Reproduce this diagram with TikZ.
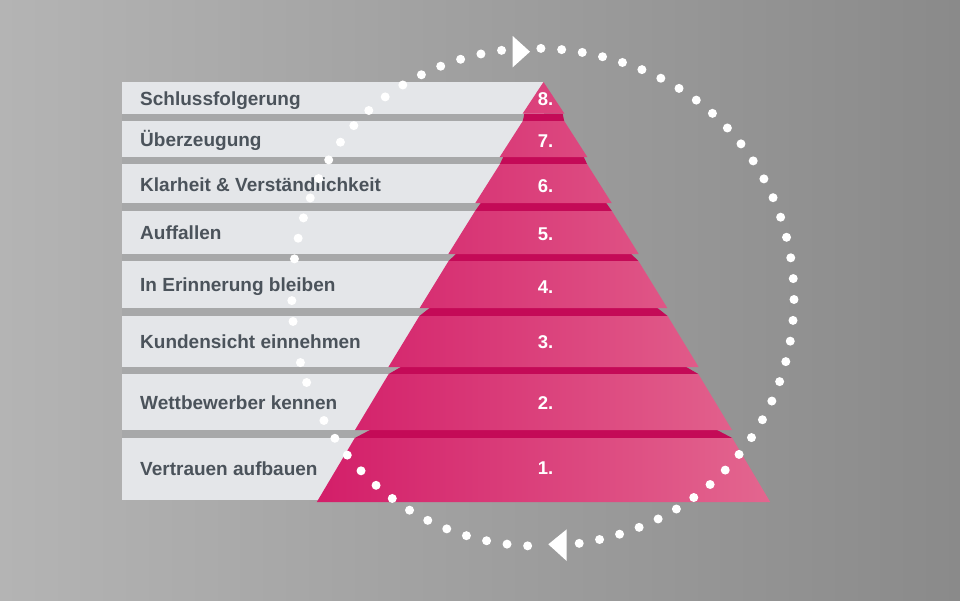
\documentclass[tikz,border=0pt]{standalone}
\usepackage{fontspec}
\setmainfont{Liberation Sans}
\definecolor{bgL}{HTML}{B4B4B4}
\definecolor{bgR}{HTML}{8A8A8A}
\definecolor{barfill}{HTML}{E4E6E9}
\definecolor{stripecol}{HTML}{A7A8A9}
\definecolor{pyrL}{HTML}{D31E69}
\definecolor{pyrR}{HTML}{E3668F}
\definecolor{bandcol}{HTML}{C40A57}
\definecolor{txtcol}{HTML}{4B535B}
\tikzset{
  lbl/.style={anchor=base west,inner sep=0pt,text=txtcol,font=\fontsize{19}{22}\selectfont\bfseries},
  num/.style={anchor=base,inner sep=0pt,text=white,font=\fontsize{18.5}{22}\selectfont\bfseries},
  dotfill/.style={fill=white,draw=none},
  arrowfill/.style={fill=white,draw=none}
}
\begin{document}
\begin{tikzpicture}[x=1pt,y=-1pt]
\useasboundingbox (0,0) rectangle (960,600);
\shade[left color=bgL,right color=bgR] (0,0) rectangle (960,600);
% shadow stripes between bars
\foreach \a/\b in {114/121,157/164,203/211,254/261,308/316,367/374,430/438}
  \fill[stripecol] (122,\a) rectangle (543.5,\b);
% label bars
\foreach \a/\b in {82/114,121/157,164/203,211/254,261/308,316/367,374/430,438/500}
  \fill[barfill] (122,\a) rectangle (543.5,\b);
% dark bands of the slabs
\fill[bandcol] (524.4,113.5) -- (562.6,113.5) -- (564.2,121) -- (522.8,121) -- cycle;
\fill[bandcol] (503.2,157) -- (583.8,157) -- (587.0,164) -- (500.0,164) -- cycle;
\fill[bandcol] (480.8,203) -- (606.2,203) -- (611.9,211) -- (475.1,211) -- cycle;
\fill[bandcol] (455.9,254) -- (631.1,254) -- (638.4,261) -- (448.6,261) -- cycle;
\fill[bandcol] (429.6,308) -- (657.4,308) -- (667.6,316) -- (419.4,316) -- cycle;
\fill[bandcol] (400.8,367) -- (686.2,367) -- (698.3,374) -- (388.7,374) -- cycle;
\fill[bandcol] (370.0,430) -- (717.0,430) -- (732.2,438) -- (354.8,438) -- cycle;
% front faces of the pyramid layers
\shade[left color=pyrL,right color=pyrR]
  (543.5,82) -- (564.3,113.5) -- (522.7,113.5) -- cycle
  (522.8,121) -- (564.2,121) -- (587.3,157) -- (499.7,157) -- cycle
  (500.0,164) -- (587.0,164) -- (611.7,203) -- (475.3,203) -- cycle
  (475.1,211) -- (611.9,211) -- (638.7,254) -- (448.3,254) -- cycle
  (448.6,261) -- (638.4,261) -- (667.3,308) -- (419.7,308) -- cycle
  (419.4,316) -- (667.6,316) -- (698.6,367) -- (388.4,367) -- cycle
  (388.7,374) -- (698.3,374) -- (732.0,430) -- (355.0,430) -- cycle
  (354.8,438) -- (732.2,438) -- (770.2,502) -- (316.8,502) -- cycle;
% labels
\node[lbl] (t8) at (140,105.7) {Schlussfolgerung};
\node[lbl] (t7) at (140,146.6) {Überzeugung};
\node[lbl] (t6) at (140,191.0) {Klarheit \& Verständlichkeit};
\node[lbl] (t5) at (140,239.7) {Auffallen};
\node[lbl] (t4) at (140,291.7) {In Erinnerung bleiben};
\node[lbl] (t3) at (140,348.7) {Kundensicht einnehmen};
\node[lbl] (t2) at (140,409.2) {Wettbewerber kennen};
\node[lbl] (t1) at (140,475.5) {Vertrauen aufbauen};
% numbers
\node[num] (n8) at (545.5,105.8) {8.};
\node[num] (n7) at (545.5,147.6) {7.};
\node[num] (n6) at (545.5,192.0) {6.};
\node[num] (n5) at (545.5,240.6) {5.};
\node[num] (n4) at (545.5,293.2) {4.};
\node[num] (n3) at (545.5,348.3) {3.};
\node[num] (n2) at (545.5,409.3) {2.};
\node[num] (n1) at (545.5,474.5) {1.};
% dotted circle, left half (skipping dots hidden by the labels)
\foreach \k in {0,...,35}{
  \ifnum\k=16\else\ifnum\k=19\else\ifnum\k=22\else
  \pgfmathsetmacro{\t}{99.5+4.77*\k}
  \pgfmathsetmacro{\r}{251+5*exp(-((\t-135)/25)*((\t-135)/25))-3*exp(-((\t-275)/25)*((\t-275)/25))-2.5*exp(-((\t-75)/20)*((\t-75)/20))}
  \fill[dotfill] ({543+\r*cos(\t)},{298-\r*sin(\t)}) circle (4.5);
  \fi\fi\fi
}
% dotted circle, right half
\foreach \k in {0,...,36}{
  \pgfmathsetmacro{\t}{278.4+4.78*\k}
  \pgfmathsetmacro{\r}{251-3*exp(-((\t-280)/25)*((\t-280)/25))-2.5*exp(-((\t-435)/20)*((\t-435)/20))}
  \fill[dotfill] ({543+\r*cos(\t)},{298-\r*sin(\t)}) circle (4.5);
}
% arrowheads
\coordinate (a1) at (512.7,36);
\coordinate (a2) at (512.7,67.3);
\coordinate (a3) at (530,51.7);
\fill[arrowfill] (a1) -- (a3) -- (a2) -- cycle;
\coordinate (b1) at (548.3,544.3);
\coordinate (b2) at (566.7,529.3);
\coordinate (b3) at (566.7,561);
\fill[arrowfill] (b1) -- (b2) -- (b3) -- cycle;
\end{tikzpicture}
\end{document}
